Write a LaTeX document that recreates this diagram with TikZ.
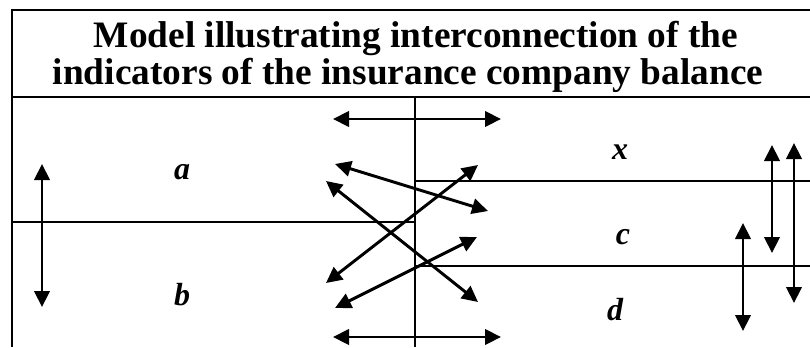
\documentclass[tikz,border=0pt]{standalone}
\usepackage{fontspec}
\setmainfont{Liberation Serif}
\usetikzlibrary{arrows.meta}
\tikzstyle{frame}=[line width=2pt]
\tikzstyle{link}=[line width=2.2pt, {Triangle[length=12pt, width=11.5pt]}-{Triangle[length=12pt, width=11.5pt]}]
\tikzstyle{heading}=[font=\fontsize{28}{37}\selectfont\bfseries, inner sep=0, anchor=base]
\tikzstyle{indicator}=[font=\fontsize{24}{24}\selectfont\bfseries\itshape, inner sep=0]
\tikzstyle{balancemodel}=[x=0.75pt, y=-0.75pt,
                          % Fix the page to the reference size.
                          execute at begin picture={\useasboundingbox (0, 0) rectangle (810, 347);}]
\begin{document}
\begin{tikzpicture}[balancemodel]
        \node[heading] (title1) at (416, 47) {Model illustrating interconnection of the};
        \node[heading] (title2) at (408, 84) {indicators of the insurance company balance};
        \node[indicator] (a) at (182, 172) {a};
        \node[indicator] (b) at (182, 295) {b};
        \node[indicator] (x) at (620, 152) {x};
        \node[indicator] (c) at (623, 237) {c};
        \node[indicator] (d) at (615, 310) {d};
        % Frame and dividing lines.
        \draw[frame] (810, 10) -- (12, 10) -- (12, 347);
        \draw[frame] (12, 97) -- (810, 97);
        \draw[frame] (415, 97) -- (415, 347);
        \draw[frame] (12, 222) -- (415, 222);
        \draw[frame] (415, 181) -- (810, 181);
        \draw[frame] (415, 266) -- (810, 266);
        % Arrow ends.
        \coordinate (topW) at (333, 119);
        \coordinate (topE) at (501, 119);
        \coordinate (botW) at (333, 337);
        \coordinate (botE) at (501, 337);
        \coordinate (aX) at (335, 164);
        \coordinate (cA) at (488, 211);
        \coordinate (aD) at (326, 181);
        \coordinate (dA) at (478, 302);
        \coordinate (xB) at (478, 165);
        \coordinate (bX) at (326, 283);
        \coordinate (cB) at (477, 237);
        \coordinate (bC) at (335, 308);
        \coordinate (abN) at (42, 164);
        \coordinate (abS) at (42, 307);
        \coordinate (xcN) at (772, 145);
        \coordinate (xcS) at (772, 253);
        \coordinate (xdN) at (794, 143);
        \coordinate (xdS) at (794, 303);
        \coordinate (cdN) at (743, 223);
        \coordinate (cdS) at (743, 331);
        \draw[link] (topW) -- (topE);
        \draw[link] (botW) -- (botE);
        \draw[link] (aX) -- (cA);
        \draw[link] (aD) -- (dA);
        \draw[link] (xB) -- (bX);
        \draw[link] (cB) -- (bC);
        \draw[link] (abN) -- (abS);
        \draw[link] (xcN) -- (xcS);
        \draw[link] (xdN) -- (xdS);
        \draw[link] (cdN) -- (cdS);
    \end{tikzpicture}
\end{document}
